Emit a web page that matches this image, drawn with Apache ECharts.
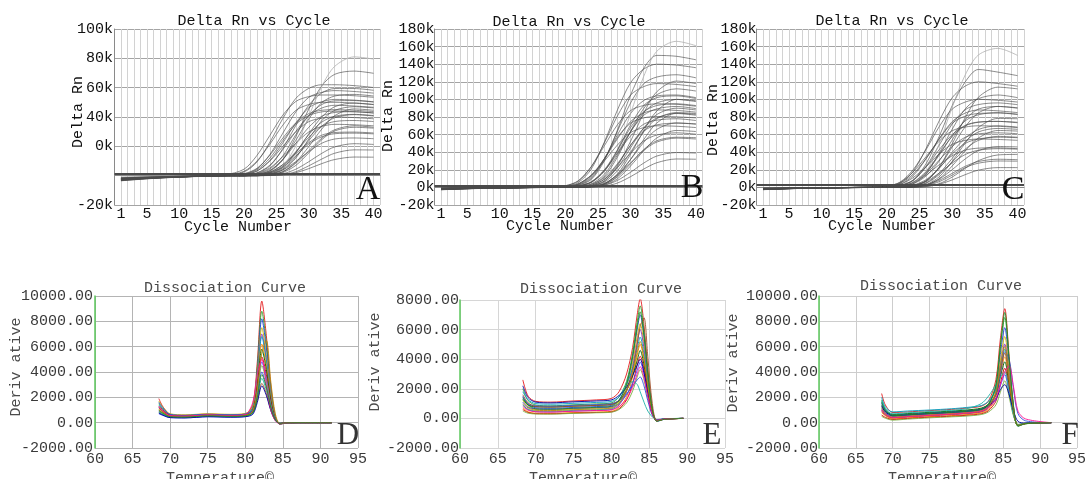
<!DOCTYPE html>
<html><head><meta charset="utf-8">
<script src="https://cdn.jsdelivr.net/npm/echarts@6/dist/echarts.min.js"></script>
<style>html,body{margin:0;padding:0;background:#fff}#c{width:1089px;height:479px}</style>
</head><body><div id="c"></div>
<script>
// ---------- Amplification plots (Delta Rn, in k) ----------
const ampCycles = [1, 6, 12, 17, 20, 22, 24, 26, 28, 30, 32, 34, 37, 40];
const ampXTicks = [1, 5, 10, 15, 20, 25, 30, 35, 40];

const ampA = [
 [-2.5,-1.4,-0.5,0.6,4.4,13.8,27.5,41.3,50.6,53.9,55,55,54.5,53.4],
 [-3,-1.6,-0.6,0.3,3,10,21.5,34.5,44.5,48.5,50,50,49.5,48.5],
 [-1.8,-1,-0.3,0,2.5,9.3,22.9,39,52.7,59.5,62,62,61.4,60.1],
 [-3.5,-1.9,-0.7,0,1.4,5,14,25.7,36,42.3,44.6,45,44.6,43.7],
 [-2.2,-1.2,-0.4,0,1.2,4.6,14.5,29,43.5,53.4,56.8,58,57.4,56.3],
 [-1.5,-0.8,-0.3,0,0.8,3.2,10,20,30,36.8,39.2,40,39.6,38.8],
 [-2.8,-1.5,-0.5,0,0.8,3.1,10.4,22.4,35.9,46.3,50.4,52,51.5,50.4],
 [-2,-1.1,-0.4,0,0.5,1.9,7.2,17.8,30.2,40.8,46.1,48,47.5,46.6],
 [-3.2,-1.7,-0.6,0,0.4,1.4,5.3,13,22,29.8,33.6,35,34.7,34],
 [-1.2,-0.7,-0.2,0,0.3,1.8,6.6,18.6,34.2,48,56.4,59.4,59.4,58.2],
 [-2.6,-1.4,-0.5,0,0,0.9,3.5,11,22,33,40.5,43.1,43.6,42.7],
 [-1.8,-1,-0.3,0,0,0.6,2.4,7.5,15,22.5,27.6,29.4,29.7,29.1],
 [-3,-1.6,-0.6,0,0,0.8,3.4,11.2,24.1,38.6,49.8,54.3,55.4,54.3],
 [-2.3,-1.2,-0.4,0,0,0.6,2.3,7.6,16.3,26.2,33.8,36.9,37.6,36.9],
 [-1.5,-0.8,-0.3,0,0,0.7,2.9,10.8,26.6,45.4,61.2,69.1,71.3,69.8],
 [-3.4,-1.8,-0.6,0,0,0.3,1,3.9,9.6,16.4,22.1,25,25.7,25.2],
 [-2.1,-1.1,-0.4,0,0,0.3,1.5,5.5,15.5,28.5,40,47,49.5,48.5],
 [-2.7,-1.5,-0.5,0,0,0.2,1.3,4.6,13,23.9,33.6,39.5,41.6,40.7],
 [-1,-0.5,-0.2,0,0,0,1.6,6.5,20.3,40.5,60.8,74.5,81,79.5],
 [-2.4,-1.3,-0.5,0,0,0,0.7,2.7,8.5,17,25.5,31.3,34,33],
 [-3,-1.6,-0.6,0,0,0,0.3,1.3,4.4,9.5,15.2,19.6,21.8,21.3],
 [-1.7,-0.9,-0.3,0,0,0,0.7,2.8,9.2,19.8,31.7,40.9,45.5,44.6],
 [-2.5,-1.3,-0.5,0,0,0,0.2,0.7,2.7,6.7,11.3,15.3,17.6,17.5],
 [-2,-1.1,-0.4,0,0,0,0.1,0.5,2,4.8,8.2,11,12.7,12.6],
 [-2.9,-1.5,-0.5,0,1,4,12,24,35,41,43.5,44,43.6,42.8],
 [-1.6,-0.9,-0.3,0,0,1.2,4.5,13.5,28,41,48.5,51,51.2,50.2],
 [-2.2,-1.2,-0.4,0,0,0.5,2,6.5,16,28,36.5,40.5,41.8,41],
 [-3.1,-1.7,-0.6,0,0,0,1,4,12,25,37.5,44.5,47,46.2],
 [-1.9,-1,-0.4,0,0,0.4,1.8,5.8,13.5,21.5,26.5,28.6,29,28.5],
 [-2.6,-1.4,-0.5,0,0,0,0.6,2.2,7,15.5,24.5,30.5,33,32.4]
];
const ampB = [
 [-1.5,-0.8,-0.3,0,1.9,7.6,23.8,47.5,71.3,87.4,93.1,95,94.5,92.2],
 [-2,-1,-0.4,0,1.8,7.1,23.6,50.7,81.4,105,114.5,118,117,114.5],
 [-1,-0.5,-0.2,0,1.1,4.2,14,30.1,48.3,62.3,67.9,70,69.5,68],
 [-2.5,-1.3,-0.5,0,1.4,5.6,21,51.8,88.2,119,134.4,140,139,136],
 [-1.2,-0.6,-0.2,0,0.9,3.5,13.2,32.6,55.4,74.8,84.5,88,87.5,85.5],
 [-1.8,-0.9,-0.3,0,0.5,3.2,11.6,32.6,59.9,84,98.7,104,105,102],
 [-2.2,-1.1,-0.4,0,0,1.6,6.2,19.5,39,58.5,71.8,76.4,78,76],
 [-1,-0.5,-0.2,0,0,2.6,10.2,32,64,96,117.8,125.4,128,124.5],
 [-1.6,-0.8,-0.3,0,0,1.4,5.5,18.4,39.6,63.5,81.9,89.2,92,89.5],
 [-2.4,-1.2,-0.4,0,0,2.3,9.1,30.4,65.4,104.9,135.3,150,149,145],
 [-1.3,-0.7,-0.2,0,0,0.6,2.5,9.3,22.9,39.1,52.7,59.5,62,60.5],
 [-2,-1,-0.4,0,0,1,4,15,37,63,85,96,100,97.5],
 [-0.8,-0.4,-0.1,0,0,0.4,2.5,9.2,26,47.9,67.2,79,84,82],
 [-1.9,-1,-0.3,0,0,0.6,3.4,12.3,34.7,63.8,89.6,105.3,112,109.5],
 [-1.5,-0.8,-0.3,0,0,0,3.4,13.4,42,84,126,154.6,166,161],
 [-2.3,-1.2,-0.4,0,0,0,1.1,4.5,14,28,42,51.5,56,55],
 [-1.1,-0.6,-0.2,0,0,0,1.8,7.2,22.5,45,67.5,82.8,90,88],
 [-1.7,-0.9,-0.3,0,0,0,0.6,2.4,8,17.2,27.6,35.6,39.6,39],
 [-2,-1,-0.4,0,0,0,1.1,4.4,14.8,31.8,51.1,65.9,73.3,72],
 [-1.4,-0.7,-0.2,0,0,0,1.8,7.3,24.4,52.5,84.2,108.6,120.8,118],
 [-2.6,-1.3,-0.5,0,0,0,0.3,1.3,5,12.2,20.8,28,32.3,32],
 [-1,-0.5,-0.2,0,0,0,0.9,3.4,12.9,31.8,54.2,73.1,84.3,83],
 [-1.8,-0.9,-0.3,0,0,0,1,4.1,15.3,37.7,64.3,86.7,100,98.5],
 [-1.2,-0.6,-0.2,0,0,0,0.7,2.6,9.9,24.4,41.6,56.1,64.7,63.5],
 [-2.1,-1.1,-0.4,0,0.8,4,14,33,57,73,79,80.5,80.2,79],
 [-1.4,-0.7,-0.3,0,0,1.5,6,19,42,68,86,93,95,93],
 [-2.3,-1.2,-0.4,0,0,0.8,3.5,11,27,48,64,71,73,72],
 [-1.7,-0.9,-0.3,0,0,0,1.5,6,19,40,63,78,85,84],
 [-0.9,-0.5,-0.2,0,0,1.6,6.5,20,43,71,93,102,104,101],
 [-2.7,-1.4,-0.5,0,0,0,0.9,3.6,12,27,43,53,57,56.5]
];
const ampC = [
 [-2,-1,-0.4,0,1.4,5.6,17.5,35,52.5,64.4,68.6,70,69.5,68],
 [-1.5,-0.8,-0.3,0,1.5,6,20,43,69,89,97,100,99,97],
 [-2.5,-1.3,-0.5,0,0.8,3.3,11,23.7,38,49,53.4,55,54.5,53.5],
 [-1.2,-0.6,-0.2,0,0.9,3.5,13.2,32.6,55.4,74.8,84.5,88,87,85],
 [-2.2,-1.1,-0.4,0,1.2,4.8,18,44.4,75.6,102,115.2,120,118,115],
 [-1.8,-0.9,-0.3,0,0.2,1.4,5,14,25.7,36,42.3,44.6,45,44],
 [-1,-0.5,-0.2,0,0.4,2.3,8.3,23.3,42.8,60,70.5,74.3,75,73.5],
 [-2.4,-1.2,-0.4,0,0,1.9,7.7,24,48,72,88.3,94.1,96,94],
 [-1.4,-0.7,-0.2,0,0,1.2,5,15.5,31,46.5,57,60.8,62,61],
 [-2,-1,-0.4,0,0,2,8.1,27,58,93,120,134,131,127],
 [-1.1,-0.6,-0.2,0,0,1.3,5.1,17,36.6,58.7,75.7,82.5,85,83],
 [-2.6,-1.3,-0.5,0,0,0.4,1.8,6.6,16.3,27.7,37.4,42.2,44,43.5],
 [-1.6,-0.8,-0.3,0,0,1.1,4.2,15.8,38.9,66.2,89.3,100.8,105,102],
 [-2,-1,-0.4,0,0,0.4,2.1,7.7,21.7,39.9,56,65.8,70,68.5],
 [-1.3,-0.7,-0.2,0,0,0.8,4.8,17.6,49.6,91.2,128,150.4,158,150],
 [-1.7,-0.9,-0.3,0,0,0,1.8,7.4,23,46,69,84.6,92,90],
 [-2.3,-1.2,-0.4,0,0,0,0.6,2.6,8,16,24,29.4,32,31.5],
 [-0.9,-0.5,-0.2,0,0,0,1.2,4.6,14.5,29,43.5,53.4,58,57],
 [-2.1,-1.1,-0.4,0,0,0,1.7,6.9,23,49.5,79.4,102.4,113.9,112],
 [-1.5,-0.8,-0.3,0,0,0,0.7,2.8,9.4,20.2,32.4,41.8,46.5,46],
 [-2.4,-1.2,-0.4,0,0,0,0.8,3.2,12,29.6,50.4,68,78.4,78],
 [-1.2,-0.6,-0.2,0,0,0,0.2,0.9,3.5,8.5,14.5,19.6,22.5,22.5],
 [-1.9,-1,-0.3,0,0,0,0.7,2.6,9.9,24.4,41.6,56.1,64.7,64],
 [-1.4,-0.7,-0.2,0,0,0,0.2,1.1,4.2,11.8,21.7,30.4,36.9,37.5],
 [-2.2,-1.1,-0.4,0,1.1,4.6,15,33,55,73,81,84,84.5,83],
 [-1.6,-0.8,-0.3,0,0,1.5,6,18,38,58,70,74,75,74],
 [-2.5,-1.3,-0.5,0,0,0.6,2.6,8.8,22,38,50,55,57,56.5],
 [-1.1,-0.6,-0.2,0,0,0,1.3,5.2,16,33,52,63,67,66],
 [-2,-1,-0.4,0,0,1,4,13,30,54,77,89,92,90.5],
 [-1.8,-0.9,-0.3,0,0,0,0.5,2,6.5,14,22.5,27.5,30,29.8]
];
const thresholdA = 1.5, thresholdB = 2, thresholdC = 3;
const yTicksA = [-20, 0, 20, 40, 60, 80, 100];
const yLabelsA = ['-20k', '', '0k', '40k', '60k', '80k', '100k'];
const yTicksBC = [-20, 0, 20, 40, 60, 80, 100, 120, 140, 160, 180];
const yLabelsBC = ['-20k', '0k', '20k', '40k', '60k', '80k', '100k', '120k', '140k', '160k', '180k'];

// ---------- Dissociation curves ----------
const tempTicks = [60, 65, 70, 75, 80, 85, 90, 95];
const meltXD = [68.5, 69, 70, 72, 75, 78, 80, 81, 81.6, 82.2, 82.8, 83.4, 84, 84.6, 85.5, 88, 91.5];
const meltD = [
 [1900,1300,650,580,680,620,700,1450,4800,9600,6900,2900,500,-120,-20,0,0],
 [1500,1100,600,540,640,590,650,1250,4400,8800,6300,2600,450,-100,-20,0,0],
 [1200,900,540,500,600,560,600,1150,4100,8200,5900,2500,420,-110,-20,0,0],
 [1700,1250,700,620,700,660,720,1300,3900,7500,5400,2300,400,-90,-10,0,0],
 [900,700,450,420,520,480,520,950,3500,7000,5000,2100,380,-100,-20,0,0],
 [1400,1050,620,560,650,600,660,1150,3500,6800,4900,2050,360,-80,-10,0,0],
 [1100,850,500,470,570,530,570,1000,3200,6200,4500,1900,320,-90,-10,0,0],
 [800,650,420,400,500,460,500,880,2900,5800,4200,1750,300,-80,-10,0,0],
 [1300,1000,580,520,610,570,620,1000,2800,5200,3800,1600,280,-70,-10,0,0],
 [700,580,400,380,470,440,480,800,2500,4800,3500,1450,260,-80,-10,0,0],
 [1000,800,480,450,550,510,550,880,2400,4500,3300,1400,250,-70,-10,0,0],
 [1600,1200,650,580,660,620,680,950,2200,4000,2900,1250,240,-60,-10,0,0],
 [850,680,450,430,520,480,520,760,1900,3500,2550,1100,200,-60,-10,0,0],
 [1150,900,540,500,590,550,590,800,1750,3100,2300,1000,190,-50,-10,0,0],
 [750,600,400,380,470,440,470,660,1600,2900,2150,950,170,-50,-10,0,0],
 [1000,800,520,490,590,550,590,900,2600,5500,6500,3200,700,-60,-10,0,0],
 [1250,950,560,520,610,570,640,1600,3800,5000,3000,1000,150,-80,-10,0,0],
 [950,750,470,440,540,500,540,800,2000,3800,2800,1200,220,-60,-10,0,0]
];
const meltXE = [68.3, 69, 70, 72, 75, 78, 80, 81, 82, 82.8, 83.4, 83.8, 84.3, 84.8, 85.4, 86, 87, 89.5];
const meltE = [
 [2600,1500,1150,1100,1180,1250,1350,1800,3000,4800,7000,8100,6300,3400,650,-150,-50,0],
 [2000,1200,900,850,920,980,1050,1450,2500,4400,6500,7600,5900,3200,600,-180,-60,0],
 [1500,950,720,680,740,800,880,1250,2300,4100,6000,7000,5500,2900,550,-200,-60,0],
 [1200,800,600,580,640,700,760,1100,2100,3800,5500,6400,5000,2700,500,-160,-50,0],
 [900,600,450,430,490,540,600,900,1800,3500,5100,6000,4700,2500,480,-170,-50,0],
 [1800,1250,1000,960,1020,1080,1150,1450,2300,3400,4700,5500,4300,2300,440,-150,-40,0],
 [700,450,350,340,390,430,480,750,1450,2800,4250,5000,3900,2100,400,-160,-50,0],
 [1300,900,800,770,830,880,950,1200,1900,2900,3900,4600,3600,1950,370,-140,-40,0],
 [600,400,320,310,360,400,440,650,1250,2350,3600,4200,3300,1750,340,-130,-40,0],
 [1100,750,650,620,680,730,790,1000,1600,2400,3250,3800,3000,1600,300,-120,-40,0],
 [500,350,300,290,340,380,420,600,1050,1850,2800,3300,2600,1400,270,-110,-30,0],
 [1400,1000,850,820,880,930,1000,1200,1650,2200,2600,2800,2200,1200,220,-100,-30,0],
 [900,600,500,480,540,590,650,1000,1900,2500,2300,1800,1100,500,100,-80,-20,0],
 [1600,1050,800,760,820,880,950,1200,1900,3200,5000,6200,6800,4200,1000,-150,-60,0],
 [2200,1400,1100,1050,1120,1180,1250,1550,2100,2900,3600,4000,3100,1700,320,-130,-40,0],
 [1000,700,550,530,590,640,700,1000,1850,3100,4450,5200,4050,2200,420,-160,-50,0],
 [800,550,450,430,490,530,580,800,1300,2100,3000,3500,2750,1500,280,-120,-40,0],
 [1400,900,650,620,690,750,820,1200,2300,4200,6200,7200,5600,3000,580,-190,-60,0]
];
const meltXF = [68.5, 69, 70, 72, 75, 78, 80, 82, 83, 84, 84.6, 85.2, 85.8, 86.4, 87, 88, 91.5];
const meltF = [
 [2300,1400,800,850,950,1050,1150,1300,1700,3400,6600,9000,5200,1300,-250,-80,0],
 [1800,1100,600,680,780,880,950,1100,1500,3000,6000,8300,4900,1200,-280,-90,0],
 [1500,950,500,580,680,780,850,1000,1400,2800,5400,7500,4500,1100,-260,-80,0],
 [1200,800,400,480,580,680,760,900,1250,2500,4900,6800,4100,1000,-240,-80,0],
 [1000,650,350,430,530,620,700,840,1150,2300,4500,6200,3700,900,-220,-70,0],
 [2000,1250,850,920,1000,1100,1200,1350,1700,2600,4300,5800,3500,850,-200,-70,0],
 [800,550,300,380,480,560,640,780,1050,2000,3800,5200,3100,800,-200,-60,0],
 [1400,900,650,720,820,920,1000,1150,1450,2200,3600,4800,2900,700,-180,-60,0],
 [600,420,250,330,430,510,580,700,950,1700,3100,4300,2600,650,-170,-60,0],
 [1100,750,500,580,680,770,850,980,1250,1800,2900,3800,2300,600,-150,-50,0],
 [500,350,200,280,380,460,520,640,850,1400,2400,3300,2000,500,-130,-40,0],
 [1600,1000,550,630,730,830,900,1050,1400,2200,3800,5600,5000,2600,700,150,0],
 [1700,1100,700,780,880,980,1100,1500,2100,3000,3600,4000,2400,600,-150,-50,0],
 [900,600,400,480,580,670,750,880,1200,2300,4100,5500,3300,850,-210,-70,0],
 [1300,850,550,620,720,820,900,1050,1350,1900,2600,3000,2200,900,100,-30,0],
 [1100,700,450,520,620,720,800,950,1300,2400,4500,6000,3600,900,-220,-70,0],
 [1000,650,400,480,580,680,760,900,1200,1900,3000,4000,4500,2800,900,300,0],
 [1600,1000,550,620,720,820,900,1050,1450,2900,6000,8700,5000,1200,-260,-80,0]
];
const meltColors = ['#e31a1c','#2ca02c','#1f3fd8','#c9b800','#8e2bbd','#00a0c0','#ff8c00','#006400',
  '#d40000','#4040ff','#7cb342','#3050e0','#20b2aa','#a0522d','#0000a0','#b8860b','#ff1493','#228b22'];

// ---------- chart ----------
const FONT = '"Liberation Mono", "DejaVu Sans Mono", monospace';
const chart = echarts.init(document.getElementById('c'));

const ampGrids = [
  {left:114.5, top:29, width:265.5, height:176},
  {left:434.5, top:29, width:268, height:176},
  {left:756.5, top:29, width:267.5, height:176}
];
const meltGrids = [
  {left:95, top:296, width:263, height:152},
  {left:460, top:300, width:265, height:148},
  {left:819, top:296, width:261, height:152}
];
const ampSets = [
  {curves: ampA, thr: thresholdA, min:-20, max:100, ticks: yTicksA, labels: yLabelsA, margin:1.5},
  {curves: ampB, thr: thresholdB, min:-20, max:180, ticks: yTicksBC, labels: yLabelsBC, margin:0},
  {curves: ampC, thr: thresholdC, min:-20, max:180, ticks: yTicksBC, labels: yLabelsBC, margin:0}
];
const meltSets = [
  {x: meltXD, curves: meltD, min:-2000, max:10000, grid:'#b4b4b4', margin:2},
  {x: meltXE, curves: meltE, min:-2000, max:8000, grid:'#d6d6d6', margin:1},
  {x: meltXF, curves: meltF, min:-2000, max:10000, grid:'#cdcdcd', margin:1}
];

const grid = [], xAxis = [], yAxis = [], series = [];
ampSets.forEach((s, p) => {
  grid.push(Object.assign({containLabel:false}, ampGrids[p]));
  xAxis.push({type:'value', gridIndex:p, min:0, max:41, interval:1,
    axisLine:{show:true, lineStyle:{color:'#8a8a8a'}}, axisTick:{show:false},
    axisLabel:{margin:2, fontFamily:FONT, fontSize:15, color:'#111',
      formatter: v => ampXTicks.includes(v) ? String(v) : ''},
    splitLine:{show:true, lineStyle:{color:'#d2d2d2', width:1}}});
  yAxis.push({type:'value', gridIndex:p, min:s.min, max:s.max, interval:20,
    axisLine:{show:true, lineStyle:{color:'#8a8a8a'}}, axisTick:{show:false},
    axisLabel:{margin:s.margin, fontFamily:FONT, fontSize:15, color:'#111',
      formatter: v => { const i = s.ticks.indexOf(v); return i >= 0 ? s.labels[i] : ''; }},
    splitLine:{show:true, lineStyle:{color:'#a4a4a4', width:1}}});
  let maxIdx = 0, maxV = -1e9;
  s.curves.forEach((c, k) => { const m = Math.max(...c); if (m > maxV) { maxV = m; maxIdx = k; } });
  s.curves.forEach((vals, k) => {
    const ser = {type:'line', xAxisIndex:p, yAxisIndex:p, silent:true, animation:false,
      symbol:'none', smooth:0.3,
      data: ampCycles.map((c, j) => [c, vals[j]]),
      lineStyle:{width:0.8, color: k === maxIdx ? '#b0b0b0' : '#4a4a4a', opacity: k === maxIdx ? 1 : 0.8}, z:3};
    if (k === 0) ser.markLine = {silent:true, symbol:'none', animation:false, label:{show:false},
      lineStyle:{color:'#4a4a4a', width:2, type:'solid'}, data:[{yAxis: s.thr}]};
    series.push(ser);
  });
});
meltSets.forEach((s, q) => {
  const p = q + 3;
  grid.push(Object.assign({containLabel:false}, meltGrids[q]));
  xAxis.push({type:'value', gridIndex:p, min:60, max:95, interval:5,
    axisLine:{show:false}, axisTick:{show:false},
    axisLabel:{margin:4, fontFamily:FONT, fontSize:15, color:'#3a3a3a', showMinLabel:true, showMaxLabel:true},
    splitLine:{show:true, lineStyle:{color:s.grid, width:1}}});
  yAxis.push({type:'value', gridIndex:p, min:s.min, max:s.max, interval:2000,
    axisLine:{show:true, lineStyle:{color:'#5cc85c', width:1.5}}, axisTick:{show:false},
    axisLabel:{margin:s.margin, fontFamily:FONT, fontSize:15, color:'#3a3a3a', formatter: v => v.toFixed(2)},
    splitLine:{show:true, lineStyle:{color:s.grid, width:1}}});
  s.curves.forEach((vals, k) => {
    series.push({type:'line', xAxisIndex:p, yAxisIndex:p, silent:true, animation:false,
      symbol:'none', smooth:0.3,
      data: s.x.map((t, j) => [t, vals[j]]),
      lineStyle:{width:1, color: meltColors[k % meltColors.length], opacity:0.9}, z:3});
  });
});

function txt(text, x, y, opts) {
  opts = opts || {};
  return {type:'text', x:x, y:y, rotation: opts.rot || 0, silent:true, z:100,
    style:{text:text, fill: opts.fill || '#111',
      font: opts.font || ('15px ' + FONT),
      align:'center', verticalAlign:'middle', textAlign:'center', textVerticalAlign:'middle'}};
}
const R = Math.PI / 2;
const LETTER = '34px "Liberation Serif", "DejaVu Serif", serif';
const LETTER2 = '31px "Liberation Serif", "DejaVu Serif", serif';
const graphics = [
  txt('Delta Rn vs Cycle', 254, 21), txt('Delta Rn vs Cycle', 569, 22), txt('Delta Rn vs Cycle', 892, 21),
  txt('Cycle Number', 238, 227), txt('Cycle Number', 560, 226), txt('Cycle Number', 882, 226),
  txt('Delta Rn', 78.5, 112, {rot:R}), txt('Delta Rn', 388, 116, {rot:R}), txt('Delta Rn', 713, 120, {rot:R}),
  txt('A', 368, 190, {font:LETTER}), txt('B', 692, 188, {font:LETTER}), txt('C', 1013, 190, {font:LETTER}),
  txt('Dissociation Curve', 225, 288, {fill:'#4a4a4a'}), txt('Dissociation Curve', 601, 289, {fill:'#4a4a4a'}), txt('Dissociation Curve', 941, 286, {fill:'#4a4a4a'}),
  txt('Deriv ative', 16, 367, {rot:R, fill:'#4a4a4a'}), txt('Deriv ative', 375, 362, {rot:R, fill:'#4a4a4a'}), txt('Deriv ative', 733, 363, {rot:R, fill:'#4a4a4a'}),
  txt('Temperature©', 220, 478, {fill:'#4a4a4a'}), txt('Temperature©', 583, 478, {fill:'#4a4a4a'}), txt('Temperature©', 942, 478, {fill:'#4a4a4a'}),
  txt('D', 348, 436, {font:LETTER2, fill:'#333'}), txt('E', 712, 436, {font:LETTER2, fill:'#333'}), txt('F', 1070, 436, {font:LETTER2, fill:'#333'})
];

chart.setOption({animation:false, backgroundColor:'#fff', grid, xAxis, yAxis, series, graphic:{elements:graphics}});
</script>
</body></html>
